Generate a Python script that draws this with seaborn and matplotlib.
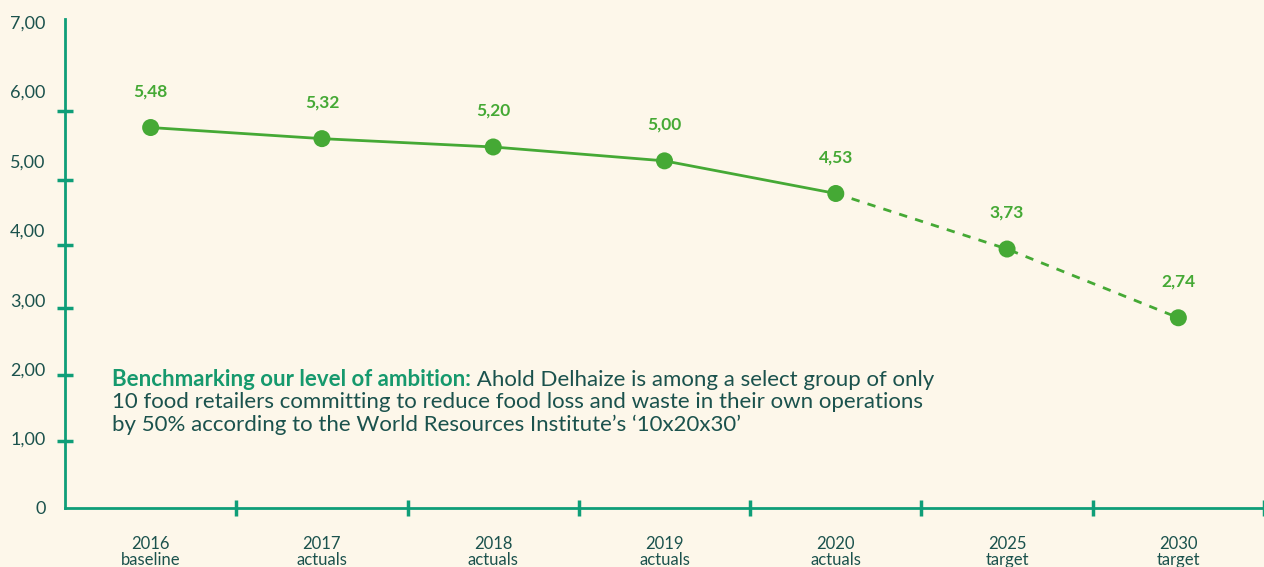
import matplotlib
matplotlib.use("Agg")
import matplotlib.pyplot as plt
import seaborn as sns
import pandas as pd

# data
years = ["2016", "2017", "2018", "2019", "2020", "2025", "2030"]
kinds = ["baseline", "actuals", "actuals", "actuals", "actuals", "target", "target"]
values = [5.48, 5.32, 5.20, 5.00, 4.53, 3.73, 2.74]
value_labels = ["5,48", "5,32", "5,20", "5,00", "4,53", "3,73", "2,74"]
y_ticks = [0, 1, 2, 3, 4, 5, 6, 7]
y_tick_labels = ["0", "1,00", "2,00", "3,00", "4,00", "5,00", "6,00", "7,00"]
y_marks = [0.96, 1.92, 2.88, 3.79, 4.73, 5.72]

BG = "#fdf7ea"
AXIS = "#0f9e78"
DARK = "#1b524d"
GREEN = "#45a935"
TEAL = "#16996d"

sns.set_theme(style="white")
plt.rcParams["font.family"] = ["Lato", "DejaVu Sans"]

df = pd.DataFrame({"x": range(len(years)), "value": values})
actual = df.iloc[:5]
target = df.iloc[4:]

fig = plt.figure(figsize=(12.64, 5.67), dpi=100, facecolor=BG)
ax = fig.add_axes([65 / 1264, 59 / 567, 1 - 65 / 1264, (508 - 22) / 567])
ax.set_facecolor(BG)

sns.lineplot(data=actual, x="x", y="value", ax=ax, color=GREEN, lw=2)
sns.lineplot(data=target, x="x", y="value", ax=ax, color=GREEN, lw=2, linestyle=(0, (3, 3)))
sns.scatterplot(data=df, x="x", y="value", ax=ax, color=GREEN, s=150, edgecolor="none", zorder=5)

for i, (v, lab) in enumerate(zip(values, value_labels)):
    ax.annotate(lab, (i, v), xytext=(0, 26), textcoords="offset points",
                ha="center", va="center", color=GREEN, fontsize=12.5, fontweight="bold")

ax.set_xlim(-0.5, 6.5)
ax.set_ylim(0, 7)

ax.set_yticks(y_ticks)
ax.set_yticklabels(y_tick_labels, color=DARK, fontsize=13)
ax.set_yticks(y_marks, minor=True)
ax.tick_params(axis="y", which="major", left=True, length=0, pad=14)
ax.tick_params(axis="y", which="minor", left=True, length=11, width=2.5, color=AXIS, direction="inout")

ax.set_xticks(range(len(years)))
ax.set_xticklabels([f"{y}\n{k}" for y, k in zip(years, kinds)], color=DARK,
                   fontsize=12, linespacing=1.0)
ax.set_xticks([i + 0.5 for i in range(len(years))], minor=True)
ax.tick_params(axis="x", which="major", bottom=True, length=0, pad=20)
ax.tick_params(axis="x", which="minor", bottom=True, length=12, width=2.5, color=AXIS, direction="inout")

for side in ["top", "right"]:
    ax.spines[side].set_visible(False)
for side in ["left", "bottom"]:
    ax.spines[side].set_color(AXIS)
    ax.spines[side].set_linewidth(2)
ax.spines["left"].set_bounds(0, 7.05)
ax.set_xlabel("")
ax.set_ylabel("")

# note text
fs = 16
tx = -0.225
bold = ax.text(tx, 1.76, "Benchmarking our level of ambition:", color=TEAL,
               fontsize=fs, fontweight="bold", va="baseline", ha="left")
ax.annotate(" Ahold Delhaize is among a select group of only", xy=(1, 0), xycoords=bold,
            va="bottom", ha="left", color=DARK, fontsize=fs)
ax.text(tx, 1.44, "10 food retailers committing to reduce food loss and waste in their own operations",
        color=DARK, fontsize=fs, va="baseline", ha="left")
ax.text(tx, 1.11, "by 50% according to the World Resources Institute\u2019s \u201810x20x30\u2019",
        color=DARK, fontsize=fs, va="baseline", ha="left")

fig.savefig("out.png", dpi=100, facecolor=BG)
